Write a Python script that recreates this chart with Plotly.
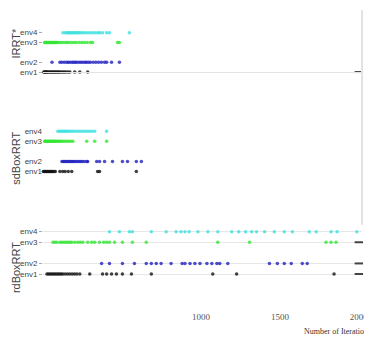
import plotly.graph_objects as go
from plotly.subplots import make_subplots

# ---------------- data ----------------
planners = ["IRRT*", "sdBoxRRT", "rdBoxRRT"]
envs = ["env1", "env2", "env3", "env4"]
env_pos = [0, 1, 3, 4]
max_iter = 2000
tick_x = [1000, 1500, 2000]

irrt_env1 = [5, 10, 15, 20, 25, 30, 38, 45, 52, 60, 68, 75, 82, 90, 98, 105, 115, 125, 135, 145, 158, 170, 201, 233, 283]
irrt_env2 = [57, 107, 120, 135, 150, 160, 172, 185, 195, 205, 215, 228, 240, 252, 265, 275, 288, 300, 318, 335, 352, 370, 390, 403, 434, 484]
irrt_env3 = [10, 15, 20, 25, 30, 35, 40, 45, 50, 55, 60, 65, 70, 75, 80, 85, 90, 100, 112, 125, 140, 152, 165, 180, 195, 210, 228, 245, 262, 280, 300, 314, 472, 484]
irrt_env4 = [126, 140, 150, 158, 165, 172, 180, 188, 195, 203, 212, 220, 228, 238, 250, 262, 275, 290, 305, 320, 335, 350, 360, 377, 403, 421, 547]
irrt_fail = [1, 0, 0, 0]

sd_env1 = [2, 8, 14, 20, 26, 32, 38, 44, 50, 56, 62, 70, 78, 107, 125, 140, 160, 182, 346, 358, 591]
sd_env2 = [120, 128, 136, 144, 152, 160, 168, 176, 184, 192, 200, 210, 220, 230, 240, 250, 262, 277, 283, 340, 358, 390, 440, 503, 535, 591, 623]
sd_env3 = [10, 15, 20, 26, 32, 38, 44, 50, 56, 62, 68, 75, 82, 90, 98, 106, 115, 126, 138, 150, 163, 176, 189, 277, 327, 403]
sd_env4 = [94, 105, 115, 125, 135, 145, 155, 165, 178, 190, 205, 220, 235, 250, 265, 280, 295, 310, 327, 403]
sd_fail = [0, 0, 0, 0]

rd_env1 = [25, 35, 45, 55, 65, 75, 85, 95, 105, 115, 125, 140, 155, 170, 185, 200, 215, 233, 296, 377, 403, 434, 465, 503, 560, 686, 1075, 1226, 1843]
rd_env2 = [371, 421, 503, 579, 654, 686, 717, 748, 811, 881, 899, 931, 962, 994, 1038, 1069, 1101, 1119, 1170, 1434, 1484, 1528, 1572, 1642, 1673]
rd_env3 = [63, 75, 88, 107, 119, 132, 145, 158, 170, 182, 201, 220, 236, 252, 283, 308, 327, 358, 384, 403, 421, 453, 503, 566, 654, 1107, 1308, 1792, 1824, 1855]
rd_env4 = [421, 484, 547, 566, 686, 780, 843, 874, 899, 925, 981, 1044, 1107, 1195, 1239, 1283, 1321, 1352, 1403, 1465, 1528, 1579, 1686, 1730, 1824, 1862, 1987]
rd_fail = [1, 1, 1, 0]

env_colors = ["#111111", "#2222c0", "#33e633", "#3fe0e0"]

data = [
    [irrt_env1, irrt_env2, irrt_env3, irrt_env4],
    [sd_env1, sd_env2, sd_env3, sd_env4],
    [rd_env1, rd_env2, rd_env3, rd_env4],
]
fails = [irrt_fail, sd_fail, rd_fail]

# ---------------- figure ----------------
W, H = 372, 340
ML, MR = 35, 18
PW = W - ML - MR

def py(px):
    return 1 - px / H

fig = make_subplots(rows=3, cols=1, shared_xaxes=False, vertical_spacing=0.02)

for r in range(3):
    for e in range(4):
        vals = data[r][e]
        fig.add_trace(go.Scatter(
            x=vals, y=[env_pos[e]] * len(vals), mode="markers",
            marker=dict(color=env_colors[e], size=3.5, opacity=0.8, line=dict(width=0)),
            cliponaxis=False, hoverinfo="x",
        ), row=r + 1, col=1)
        if fails[r][e] > 0:
            fig.add_trace(go.Scatter(
                x=[max_iter] * fails[r][e], y=[env_pos[e]] * fails[r][e], mode="markers",
                marker=dict(symbol="line-ew", size=6, line=dict(width=2, color="#444444")),
                cliponaxis=False, hoverinfo="x",
            ), row=r + 1, col=1)

# domains (pixel based, figure coords) and y ranges
domains = [(2, 65), (110, 218), (217, 306)]
yranges = [[0, 6.3], [-5.07, 5.46], [-3.35, 4.93]]

common_x = dict(range=[0, 2020], showgrid=False, zeroline=False, ticks="",
                tickvals=tick_x, ticktext=[str(v) for v in tick_x])
for i in range(3):
    xa = "xaxis" if i == 0 else f"xaxis{i+1}"
    ya = "yaxis" if i == 0 else f"yaxis{i+1}"
    fig.layout[xa].update(**common_x, showticklabels=(i == 2),
                          tickfont=dict(family="Liberation Serif", size=9, color="#555555"),
                          showline=(i == 0), linecolor="#e3e3e3", linewidth=1)
    fig.layout[ya].update(domain=[py(domains[i][1]), py(domains[i][0])],
                          range=yranges[i], tickvals=env_pos, ticktext=envs,
                          showgrid=(i == 2), gridcolor="#e6e6e6", zeroline=False,
                          ticks="outside" if i != 1 else "", ticklen=3, tickcolor="#aaaaaa",
                          tickfont=dict(family="Liberation Sans", size=8, color="#444444"))

# planner titles
title_centers = [36, 153, 264]
for name, cy in zip(planners, title_centers):
    fig.add_annotation(text=name, xref="paper", yref="paper",
                       x=(8 - ML) / PW, y=py(cy), textangle=-90,
                       showarrow=False, xanchor="center", yanchor="middle",
                       font=dict(family="Liberation Sans", size=11, color="#444444"))

fig.add_annotation(text="Number of Iterations", xref="paper", yref="paper",
                   x=(294 - ML) / PW, y=py(328), showarrow=False,
                   xanchor="left", yanchor="middle",
                   font=dict(family="Liberation Serif", size=8, color="#333333"))

fig.add_shape(type="line", xref="paper", yref="paper", x0=1, x1=1,
              y0=py(220), y1=py(2), line=dict(color="#e3e3e3", width=2))

fig.update_layout(width=W, height=H, margin=dict(l=ML, r=MR, t=0, b=0),
                  paper_bgcolor="white", plot_bgcolor="white", showlegend=False)

fig.write_html("out.html")
